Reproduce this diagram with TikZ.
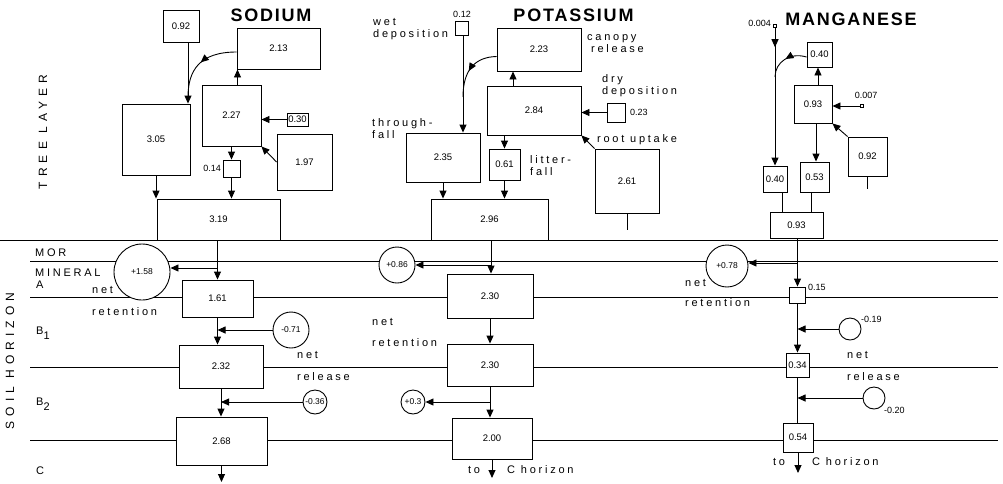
\documentclass[tikz,border=0pt]{standalone}
\usepackage{fontspec}
\setmainfont{Liberation Sans}
\newfontfamily\spacedfont[LetterSpace=25]{Liberation Sans}
\newfontfamily\widefont[LetterSpace=42]{Liberation Sans}
\newfontfamily\titlefont[LetterSpace=10]{Liberation Sans}
\usetikzlibrary{positioning, arrows.meta, decorations.markings}

\begin{document}
\begin{tikzpicture}[x=1pt, y=-1pt,
    box/.style={draw, fill=white, rectangle, line width=0.9pt, inner sep=0pt, font=\fontsize{9.5}{11}\selectfont},
    pool/.style={draw, fill=white, circle, line width=0.9pt, inner sep=0pt, font=\fontsize{8.5}{10}\selectfont},
    num/.style={inner sep=0pt, font=\fontsize{9}{11}\selectfont},
    lbl/.style={inner sep=0pt, anchor=west, align=left, font=\fontsize{11}{12}\spacedfont},
    ttl/.style={inner sep=0pt, font=\fontsize{18}{20}\titlefont\bfseries},
    flow/.style={line width=0.9pt, -{Triangle[length=8pt, width=7pt]}},
    midarrow/.style={postaction={decorate}, decoration={markings, mark=at position #1 with {\arrow{Triangle[length=8pt, width=7pt]}}}},
    hline/.style={line width=0.7pt}]
  \useasboundingbox (0,0) rectangle (1003,483);

  % horizon boundaries
  \foreach \y/\xs in {240/0, 261/30, 297/30, 367/30, 440/30} {
    \draw[hline] (\xs,\y) -- (998,\y);
  }

  % pools and fluxes
  \foreach \n/\x/\y/\w/\h/\t in {
      na92/181/26/36/32/0.92, na213/278.5/48.5/83/41/2.13, na227/231.5/115.5/59/61/2.27,
      na30/297.5/119.5/21/13/0.30, na305/156/139.5/68/71/3.05, na197/304.5/162/55/56/1.97,
      na14/231.5/168.5/17/17/{}, na319/218.5/219.5/123/41/3.19,
      naA/217.5/298.5/71/37/1.61, naB1/221/366.5/84/43/2.32, naB2/221.5/441/91/48/2.68,
      kwet/461.5/28/13/14/{}, k223/539/49.5/84/43/2.23, k284/534/110.5/94/49/2.84,
      kdry/616/112.5/18/19/{}, k261/627/181/64/64/2.61, k235/443/157.5/74/49/2.35,
      k61/504.5/164.5/31/31/0.61, k296/489.5/219.5/117/41/2.96,
      kA/490/296/86/44/2.30, kB1/490/365/86/42/2.30, kB2/492/438.5/80/41/2.00,
      mnwet/775/26/3/3/{}, mn40a/819.5/54.5/25/25/0.40, mn93a/813/104/38/38/0.93,
      mndry/862/106/3/3/{}, mn92/867.5/156.5/39/39/0.92, mn40b/775/179/24/26/0.40,
      mn53/814.5/177/29/30/0.53, mn93b/796.5/225/53/26/0.93,
      mnA/797.5/295/16/16/{}, mnB1/797.5/365/23/24/0.34, mnB2/798/437.5/30/29/0.54} {
    \node[box, minimum width=\w pt, minimum height=\h pt] (\n) at (\x,\y) {\t};
  }
  \foreach \n/\x/\y/\r/\t in {
      naP/142/272/28/+1.58, naB1c/291/330/18/-0.71, naB2c/315/402/12/-0.36,
      kP/397/265/18/+0.86, kB2c/413/402/12/+0.3,
      mnP/727/266/21/+0.78, mnB1c/850/329/11/{}, mnB2c/874/398/11/{}} {
    \node[pool, minimum size=2*\r pt] (\n) at (\x,\y) {\t};
  }

  % titles and layer names
  \node[ttl] (naT) at (271,15) {SODIUM};
  \node[ttl] (kT) at (573.5,15) {POTASSIUM};
  \node[ttl] (mnT) at (851,19) {MANGANESE};
  \node[rotate=90, inner sep=0pt, font=\fontsize{12}{12}\widefont] (tree) at (43,132) {TREE LAYER};
  \node[rotate=90, inner sep=0pt, font=\fontsize{12}{12}\widefont] (soil) at (10,361) {SOIL HORIZON};
  \node[lbl] (hMor) at (35,253) {MOR};
  \node[lbl] (hMin) at (35,272.5) {MINERAL};
  \node[lbl] (hA) at (36,284.5) {A};
  \node[lbl] (hB1) at (36,333) {B\raisebox{-5pt}{1}};
  \node[lbl] (hB2) at (36,404) {B\raisebox{-5pt}{2}};
  \node[lbl] (hC) at (36,471) {C};

  % sodium
  \node[num, anchor=east] (na14l) at (221,168.5) {0.14};
  \node[lbl] (naRet) at (92,301) {net\\[10pt]retention};
  \node[lbl] (naRel) at (297,366) {net\\[10pt]release};
  \coordinate (najoin) at (188,97);
  \coordinate (naout) at (221.5,482);
  \draw[flow] ([xshift=7pt]na92.south) -- ([xshift=7pt]na92.south |- na305.north);
  \draw[line width=0.9pt, midarrow=0.5] ([yshift=-3.5pt]na213.west) .. controls (200,52) and (188,70) .. (najoin);
  \draw[flow] ([xshift=6pt]na227.north) -- ([xshift=6pt]na227.north |- na213.south);
  \draw[flow] (na30.west) -- (na30.west -| na227.east);
  \draw[flow] (na197.west) -- (na227.south east);
  \draw[flow] (na227.south) -- (na14.north);
  \draw[flow] (na14.south) -- (na14.south |- na319.north);
  \draw[flow] (na305.south) -- (na305.south |- na319.north);
  \draw[flow] (naA.north |- na319.south) -- (naA.north);
  \draw[flow] ([yshift=4pt]naA.north |- naP.east) -- ([yshift=4pt]naP.east);
  \draw[flow] (naA.south) -- (naA.south |- naB1.north);
  \draw[flow] (naB1c.west) -- (naB1c.west -| naA.south);
  \draw[flow] (naB1.south) -- (naB1.south |- naB2.north);
  \draw[flow] (naB2c.west) -- (naB2c.west -| naB1.south);
  \draw[flow] (naB2.south) -- (naout);

  % potassium
  \node[num] (k12l) at (462,14) {0.12};
  \node[lbl] (kWet) at (373,29) {wet\\deposition};
  \node[lbl] (kCan) at (587,43.5) {canopy\\\hspace*{4pt}release};
  \node[lbl] (kDry) at (602,86) {dry\\deposition};
  \node[num, anchor=west] (k23l) at (630,112.5) {0.23};
  \node[lbl] (kRoot) at (597,140) {root uptake};
  \node[lbl] (kThr) at (372,129) {through-\\fall};
  \node[lbl] (kLit) at (530,166) {litter-\\fall};
  \node[lbl] (kRet) at (372,332.5) {net\\[9pt]retention};
  \node[lbl, anchor=center] (kTo) at (474,470) {to};
  \node[lbl] (kHor) at (507,470) {C horizon};
  \coordinate (kjoin) at (463,97);
  \coordinate (kroot) at (627,230);
  \coordinate (kout) at (492,478);
  \draw[flow] ([xshift=1.5pt]kwet.south) -- ([xshift=1.5pt]kwet.south |- k235.north);
  \draw[line width=0.9pt, midarrow=0.55] ([yshift=-7pt]k223.west) .. controls (475,57) and (463,70) .. (kjoin);
  \draw[flow] ([xshift=-21pt]k284.north) -- ([xshift=-21pt]k284.north |- k223.south);
  \draw[flow] (kdry.west) -- (kdry.west -| k284.east);
  \draw[flow] (k261.north west) -- (k284.south east);
  \draw[line width=0.9pt] (k261.south) -- (kroot);
  \draw[flow] (k61.north |- k284.south) -- (k61.north);
  \draw[flow] (k235.south) -- (k235.south |- k296.north);
  \draw[flow] (k61.south) -- (k61.south |- k296.north);
  \draw[flow] ([xshift=1.5pt]k296.south) -- ([xshift=1.5pt]k296.south |- kA.north);
  \draw[flow] ([xshift=1pt]kA.north |- kP.east) -- (kP.east);
  \draw[flow] (kA.south) -- (kA.south |- kB1.north);
  \draw[flow] (kB1.south) -- (kB1.south |- kB2.north);
  \draw[flow] (kB1.south |- kB2c.east) -- (kB2c.east);
  \draw[flow] (kB2.south) -- (kout);

  % manganese
  \node[num, anchor=east] (mn004l) at (771,23) {0.004};
  \node[num] (mn007l) at (866,95) {0.007};
  \node[num, anchor=west] (mn15l) at (808,287) {0.15};
  \node[num, anchor=west] (mn19l) at (861,319) {-0.19};
  \node[num, anchor=west] (mn20l) at (884,410) {-0.20};
  \node[lbl] (mnRet) at (685,293) {net\\[8pt]retention};
  \node[lbl] (mnRel) at (847,366) {net\\[10pt]release};
  \node[lbl, anchor=center] (mnTo) at (779,462) {to};
  \node[lbl] (mnHor) at (812,462) {C horizon};
  \coordinate (mnjoin) at (775,77);
  \coordinate (mnroot) at (867.5,189);
  \coordinate (mnout) at (798,473);
  \draw[flow, midarrow=0.14] (mnwet.south) -- (mn40b.north);
  \draw[line width=0.9pt, midarrow=0.5] ([yshift=-2.5pt]mn40a.west) .. controls (790,52) and (775,62) .. (mnjoin);
  \draw[flow] ([xshift=5pt]mn93a.north) -- ([xshift=5pt]mn93a.north |- mn40a.south);
  \draw[flow] (mndry.west) -- (mndry.west -| mn93a.east);
  \draw[flow] (mn92.north west) -- (mn93a.south east);
  \draw[line width=0.9pt] (mn92.south) -- (mnroot);
  \draw[flow] ([xshift=1.5pt]mn53.north |- mn93a.south) -- ([xshift=1.5pt]mn53.north);
  \draw[line width=0.7pt] ([xshift=7pt]mn40b.south) -- ([xshift=7pt]mn40b.south |- mn93b.north);
  \draw[line width=0.9pt] ([xshift=-3.5pt]mn53.south) -- ([xshift=-3.5pt]mn53.south |- mn93b.north);
  \draw[flow] (mn93b.south -| mnA.north) -- (mnA.north);
  \draw[flow] ([yshift=3pt]mnA.north |- mnP.east) -- ([yshift=3pt]mnP.east);
  \draw[flow] (mnA.south) -- (mnB1.north);
  \draw[flow] (mnB1c.west) -- (mnB1c.west -| mnA.south);
  \draw[line width=0.9pt] (mnB1.south) -- (mnB1.south |- mnB2.north);
  \draw[flow] (mnB2c.west) -- (mnB2c.west -| mnB1.south);
  \draw[flow] (mnB2.south) -- (mnout);
\end{tikzpicture}
\end{document}
